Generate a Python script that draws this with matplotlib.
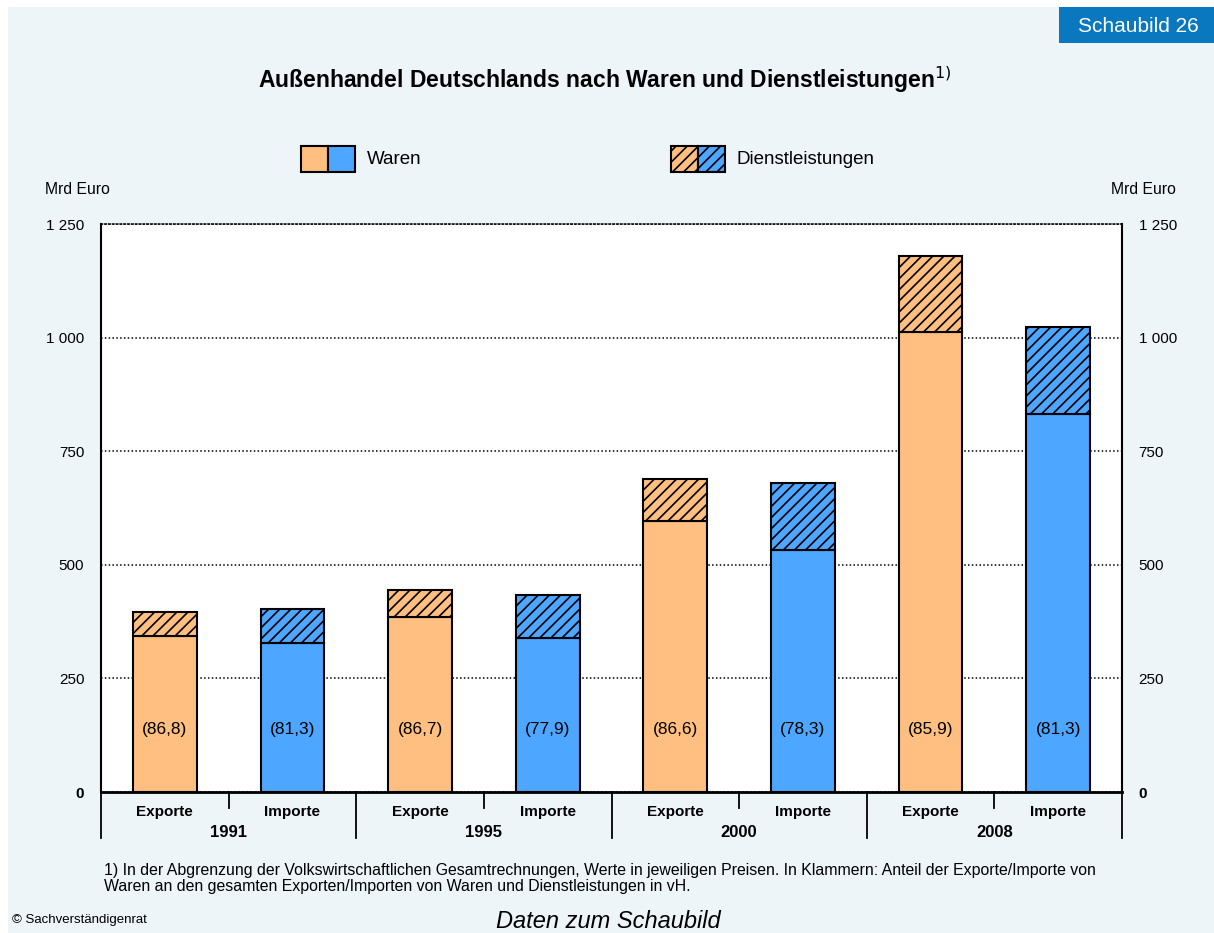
import numpy as np
import matplotlib.pyplot as plt
from matplotlib.patches import Rectangle
from matplotlib.ticker import FuncFormatter

plt.rcParams['font.family'] = ['Liberation Sans', 'DejaVu Sans']
plt.rcParams['hatch.linewidth'] = 1.2

# data (Mrd Euro)
years = ['1991', '1995', '2000', '2008']
kinds = ['Exporte', 'Importe']
waren = [343, 327, 385, 339, 596, 533, 1013, 832]
dienst = [53, 76, 59, 95, 93, 147, 167, 191]
anteil = ['(86,8)', '(81,3)', '(86,7)', '(77,9)', '(86,6)', '(78,3)', '(85,9)', '(81,3)']

orange = '#FFBF80'
blue = '#4DA6FF'
bg = '#EDF5F8'

fig = plt.figure(figsize=(12.14, 9.33), dpi=100, facecolor='white')
fig.add_artist(Rectangle((8/1214, 0), 1, 1 - 7/933, transform=fig.transFigure,
                         facecolor=bg, edgecolor='none', zorder=-10))
ax = fig.add_axes([101/1214, 1 - 792/933, 1021/1214, 568/933])
ax.set_facecolor('white')

x = np.arange(len(waren))
colors = [orange if i % 2 == 0 else blue for i in x]
ax.bar(x, waren, 0.5, color=colors, edgecolor='black', linewidth=1.5, zorder=3)
ax.bar(x, dienst, 0.5, bottom=waren, color=colors, edgecolor='black',
       linewidth=1.5, hatch='///', zorder=3)

for xi, t in zip(x, anteil):
    ax.annotate(t, (xi, 0.11), xycoords=('data', 'axes fraction'),
                ha='center', va='center', fontsize=12.5, zorder=4)

ax.set_xlim(-0.5, len(waren) - 0.5)
ax.set_ylim(0, 1250)
ticks = [0, 250, 500, 750, 1000, 1250]
ax.set_yticks(ticks)
ax.yaxis.set_major_formatter(FuncFormatter(lambda v, p: f'{int(v):,}'.replace(',', ' ')))
ax.tick_params(axis='y', length=0, pad=12, labelsize=11, labelright=True)
for lab in ax.get_yticklabels():
    if lab.get_text() == '0':
        lab.set_fontweight('bold')
ax.yaxis.grid(True, linestyle=(0, (1, 1.5)), color='black', linewidth=1.1, zorder=1)
ax.set_axisbelow(True)

ax.set_xticks([])
for s in ['left', 'right']:
    ax.spines[s].set_linewidth(1.5)
ax.spines['bottom'].set_linewidth(2)
ax.spines['top'].set_linestyle((0, (1, 1.5)))
ax.spines['top'].set_linewidth(1.1)

# category axis below
for xi in x:
    ax.annotate(kinds[xi % 2], (xi, 0), xycoords=('data', 'axes fraction'),
                xytext=(0, -14.5), textcoords='offset points', ha='center', va='center',
                fontsize=11, fontweight='bold')
for g, yr in enumerate(years):
    ax.annotate(yr, (2 * g + 0.5, 0), xycoords=('data', 'axes fraction'),
                xytext=(0, -29), textcoords='offset points', ha='center', va='center',
                fontsize=12, fontweight='bold')
trans = ax.get_xaxis_transform()
for b in np.arange(-0.5, len(waren), 2):
    ax.plot([b, b], [0, -46 / 568], transform=trans, color='black', lw=1.3, clip_on=False)
for b in np.arange(0.5, len(waren), 2):
    ax.plot([b, b], [0, -16 / 568], transform=trans, color='black', lw=1.3, clip_on=False)

# units
fig.text(45/1214, 1 - 189/933, 'Mrd Euro', fontsize=11.3, va='center', ha='left')
fig.text(1176/1214, 1 - 189/933, 'Mrd Euro', fontsize=11.3, va='center', ha='right')

# title
fig.text(605/1214, 1 - 80/933,
         r'Außenhandel Deutschlands nach Waren und Dienstleistungen$^{\mathrm{1)}}$',
         fontsize=16.5, fontweight='bold', ha='center', va='center')

# legend
def legend_item(x0, label, hatch):
    for k, c in enumerate([orange, blue]):
        fig.add_artist(Rectangle(((x0 + 27 * k) / 1214, 1 - 172/933), 27/1214, 26/933,
                                 transform=fig.transFigure, facecolor=c, edgecolor='black',
                                 linewidth=1.5, hatch=hatch))
    fig.text((x0 + 66) / 1214, 1 - 159/933, label, fontsize=13.5, va='center', ha='left')

legend_item(301, 'Waren', None)
legend_item(671, 'Dienstleistungen', '///')

# badge
fig.add_artist(Rectangle((1059/1214, 1 - 43/933), 155/1214, 36/933, transform=fig.transFigure,
                         facecolor='#0A78BE', edgecolor='none'))
fig.text(1138/1214, 1 - 26/933, 'Schaubild 26', color='white', fontsize=15,
         ha='center', va='center')

# footnote
fig.text(104/1214, 1 - 871/933,
         '1) In der Abgrenzung der Volkswirtschaftlichen Gesamtrechnungen, Werte in jeweiligen Preisen. '
         'In Klammern: Anteil der Exporte/Importe von',
         fontsize=11.4, ha='left', va='center')
fig.text(104/1214, 1 - 886/933,
         'Waren an den gesamten Exporten/Importen von Waren und Dienstleistungen in vH.',
         fontsize=11.4, ha='left', va='center')
fig.text(12/1214, 1 - 920/933, '© Sachverständigenrat', fontsize=9.5, ha='left', va='center')
fig.text(608/1214, 1 - 921/933, 'Daten zum Schaubild', fontsize=17, style='italic',
         ha='center', va='center')

fig.savefig('out.png', dpi=100, facecolor=fig.get_facecolor())
